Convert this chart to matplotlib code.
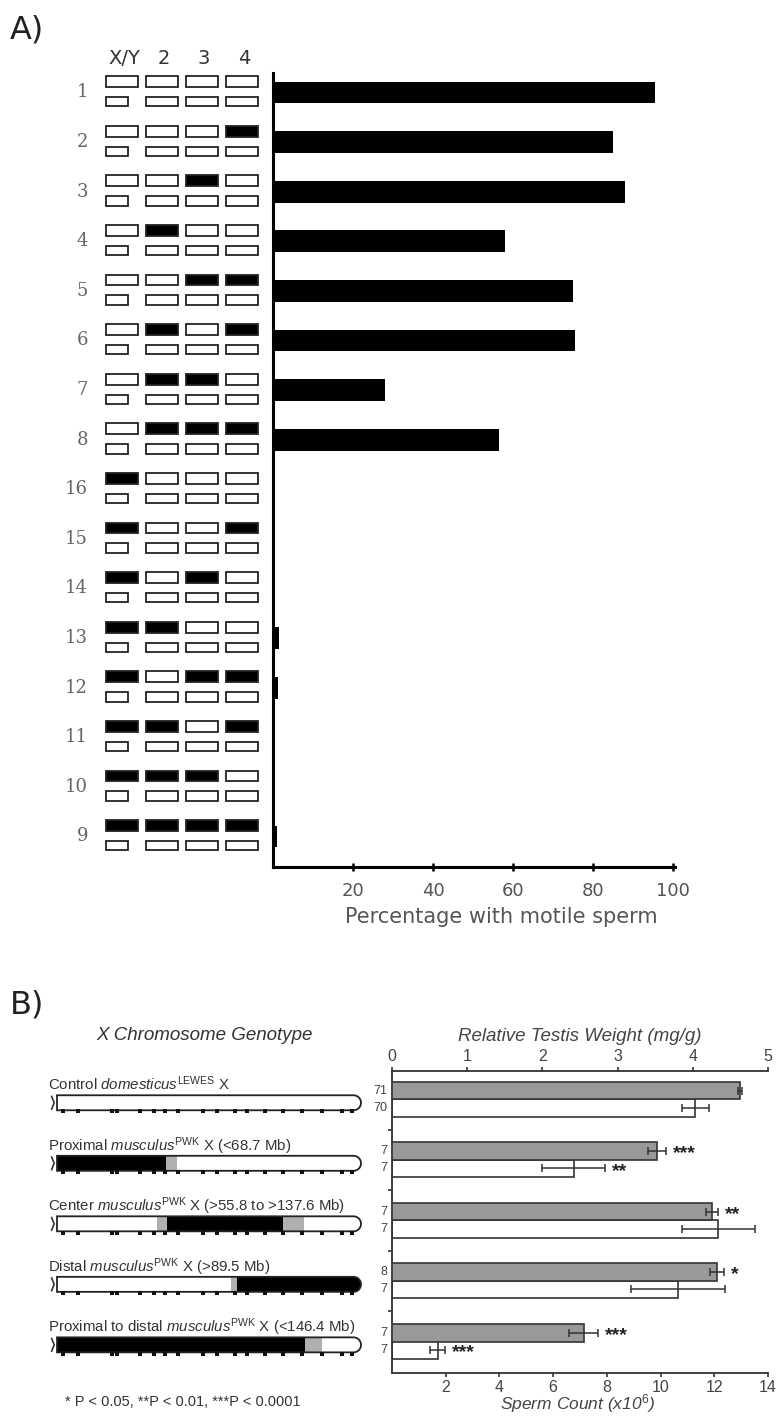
import matplotlib
matplotlib.use("Agg")
import matplotlib.pyplot as plt
import numpy as np
from matplotlib.patches import Rectangle, PathPatch
from matplotlib.path import Path

plt.rcParams['font.family'] = ['Liberation Sans', 'DejaVu Sans']
plt.rcParams['mathtext.fontset'] = 'custom'
plt.rcParams['mathtext.rm'] = 'Liberation Sans'
plt.rcParams['mathtext.it'] = 'Liberation Sans:italic'

# ---------------- panel A data ----------------
rows = ['1', '2', '3', '4', '5', '6', '7', '8', '16', '15', '14', '13', '12', '11', '10', '9']
motile_pct = [95.5, 85, 88, 58, 75, 75.5, 28, 56.5, 0, 0, 0, 1.5, 1.2, 0, 0, 1]
# 1 = PWK (filled) chromosome, 0 = domesticus (open)
xy_pwk = [0, 0, 0, 0, 0, 0, 0, 0, 1, 1, 1, 1, 1, 1, 1, 1]
chr2_pwk = [0, 0, 0, 1, 0, 1, 1, 1, 0, 0, 0, 1, 0, 1, 1, 1]
chr3_pwk = [0, 0, 1, 0, 1, 0, 1, 1, 0, 0, 1, 0, 1, 0, 1, 1]
chr4_pwk = [0, 1, 0, 0, 1, 1, 0, 1, 0, 1, 0, 0, 1, 1, 0, 1]
col_names = ['X/Y', '2', '3', '4']
pct_ticks = [20, 40, 60, 80, 100]

# ---------------- panel B data ----------------
geno_labels = [
    "Control $\\mathit{domesticus}^{\\mathrm{LEWES}}$ X",
    "Proximal $\\mathit{musculus}^{\\mathrm{PWK}}$ X (<68.7 Mb)",
    "Center $\\mathit{musculus}^{\\mathrm{PWK}}$ X (>55.8 to >137.6 Mb)",
    "Distal $\\mathit{musculus}^{\\mathrm{PWK}}$ X (>89.5 Mb)",
    "Proximal to distal $\\mathit{musculus}^{\\mathrm{PWK}}$ X (<146.4 Mb)",
]
chrom_len = 171
black_zones = [[], [(0, 61.3)], [(61.9, 127.1)], [(101.3, 171)], [(0, 139.5)]]
gray_zones = [[], [(61.3, 67.5)], [(56.3, 61.9), (127.1, 138.9)], [(97.9, 101.3)], [(139.5, 149)]]
marker_mb = [3.4, 11.8, 30.9, 33.8, 46.7, 54.6, 60.8, 68.1, 82.1, 90, 100.1,
             106.9, 117, 127.1, 137.8, 149, 160.3, 165.9]

testis_wt = [4.63, 3.53, 4.25, 4.32, 2.55]
testis_err = [0.03, 0.12, 0.08, 0.09, 0.19]
sperm_count = [11.3, 6.76, 12.15, 10.64, 1.7]
sperm_err = [0.5, 1.18, 1.37, 1.75, 0.28]
testis_sig = ['', '***', '**', '*', '***']
sperm_sig = ['', '**', '', '', '***']
n_testis = ['71', '7', '7', '8', '7']
n_sperm = ['70', '7', '7', '7', '7']

W, H = 782, 1416
fig = plt.figure(figsize=(W / 100, H / 100), dpi=100)


def px_ax(x0, y0, x1, y1):
    return fig.add_axes([x0 / W, 1 - y1 / H, (x1 - x0) / W, (y1 - y0) / H])


def fig_text(x, y, s, **kw):
    return fig.text(x / W, 1 - y / H, s, **kw)


# ================= Panel A =================
fig_text(10, 30, 'A)', fontsize=23, va='center', ha='left', color='#222',
         family='DejaVu Sans')

ypos = np.arange(len(rows))
ylim_a = (15.615, -0.393)

ax_a = px_ax(273, 73, 675, 867)
ax_a.barh(ypos, motile_pct, height=0.44, color='black')
ax_a.set_xlim(0, 100.5)
ax_a.set_ylim(*ylim_a)
for s in ['top', 'right']:
    ax_a.spines[s].set_visible(False)
for s in ['left', 'bottom']:
    ax_a.spines[s].set_linewidth(2.2)
ax_a.set_yticks([])
ax_a.set_xticks(pct_ticks)
ax_a.tick_params(axis='x', direction='inout', length=6, width=1.8,
                 labelsize=13, labelcolor='#555', pad=8)
for lab in ax_a.get_xticklabels():
    lab.set_family('DejaVu Sans')
fig_text(501, 917, 'Percentage with motile sperm', ha='center', va='center',
         fontsize=15, color='#555', family='DejaVu Sans')

# karyotype icons
ax_k = px_ax(60, 73, 265, 867)
ax_k.set_xlim(60, 265)
ax_k.set_ylim(*ylim_a)
ax_k.axis('off')
col_x = [(106, 138), (146, 178), (186, 218), (226, 258)]
pattern = [xy_pwk, chr2_pwk, chr3_pwk, chr4_pwk]
for i, y in enumerate(ypos):
    ax_k.text(88, y, rows[i], ha='right', va='center', fontsize=13,
              color='#666', family='DejaVu Serif')
    for c, (x0, x1) in enumerate(col_x):
        filled = pattern[c][i] == 1
        ax_k.add_patch(Rectangle((x0, y - 0.33), x1 - x0, 0.22,
                                 facecolor='black' if filled else 'white',
                                 edgecolor='#222', lw=1.3))
        bx1 = 128 if c == 0 else x1
        ax_k.add_patch(Rectangle((x0, y + 0.09), bx1 - x0, 0.19,
                                 facecolor='white', edgecolor='#222', lw=1.3))

for (x0, x1), name in zip(col_x, col_names):
    fig_text((x0 + x1) / 2 + 2, 58, name, ha='center', va='center',
             fontsize=14, color='#333', family='DejaVu Sans')

# ================= Panel B =================
fig_text(10, 1005, 'B)', fontsize=23, va='center', ha='left', color='#222',
         family='DejaVu Sans')

gpos = np.arange(len(geno_labels))
ylim_b = (4.52, -0.47)
bar_h = 0.29

ax_b = px_ax(392, 1071, 768, 1373)
ax_b.barh(gpos + 0.14, sperm_count, height=bar_h, xerr=sperm_err,
          color='white', edgecolor='#333', lw=1.2,
          error_kw=dict(ecolor='#333', elinewidth=1.1, capsize=3, capthick=1.1))
ax_b.set_xlim(0, 14)
ax_b.set_ylim(*ylim_b)
ax_b.set_xticks([2, 4, 6, 8, 10, 12, 14])
ax_b.set_yticks([0.5, 1.5, 2.5, 3.5])
ax_b.set_yticklabels([])
ax_b.tick_params(axis='y', direction='out', length=3, width=1.2, color='#333')
ax_b.tick_params(axis='x', direction='out', length=3, width=1.2, color='#333',
                 labelsize=11.5, labelcolor='#444', pad=2)
ax_b.spines['right'].set_visible(False)
ax_b.spines['top'].set_visible(False)
for s in ['left', 'bottom']:
    ax_b.spines[s].set_linewidth(1.3)
    ax_b.spines[s].set_color('#333')
fig_text(578, 1404, 'Sperm Count (x10$^{6}$)', ha='center', va='center',
         fontsize=12.5, style='italic', color='#444')

ax_t = ax_b.twiny()
ax_t.barh(gpos - 0.145, testis_wt, height=bar_h, xerr=testis_err,
          color='#999999', edgecolor='#333', lw=1.2,
          error_kw=dict(ecolor='#333', elinewidth=1.1, capsize=3, capthick=1.1))
ax_t.set_xlim(0, 5)
ax_t.set_ylim(*ylim_b)
ax_t.set_xticks([0, 1, 2, 3, 4, 5])
ax_t.tick_params(axis='x', direction='out', length=3, width=1.2, color='#333',
                 labelsize=11.5, labelcolor='#444', pad=2)
for s in ['left', 'right', 'bottom']:
    ax_t.spines[s].set_visible(False)
ax_t.spines['top'].set_linewidth(1.3)
ax_t.spines['top'].set_color('#333')
ax_t.set_xlabel('Relative Testis Weight (mg/g)', fontsize=13.5, style='italic',
                color='#444', labelpad=6)

for g in gpos:
    if testis_sig[g]:
        ax_t.annotate(testis_sig[g], (testis_wt[g] + testis_err[g], g - 0.145),
                      xytext=(5, -2), textcoords='offset points', ha='left',
                      va='center', fontsize=14, fontweight='bold', color='#222')
    if sperm_sig[g]:
        ax_b.annotate(sperm_sig[g], (sperm_count[g] + sperm_err[g], g + 0.14),
                      xytext=(5, -2), textcoords='offset points', ha='left',
                      va='center', fontsize=14, fontweight='bold', color='#222')
    ax_b.annotate(n_testis[g], (0, g - 0.145), xytext=(-3, 0),
                  textcoords='offset points', ha='right', va='center',
                  fontsize=9, color='#444')
    ax_b.annotate(n_sperm[g], (0, g + 0.14), xytext=(-3, 0),
                  textcoords='offset points', ha='right', va='center',
                  fontsize=9, color='#444')

# chromosome drawings
mb_per_px = chrom_len / 304.0
ax_c = px_ax(40, 1071, 380, 1373)
ax_c.set_xlim((40 - 57) * mb_per_px, (380 - 57) * mb_per_px)
ax_c.set_ylim(*ylim_b)
ax_c.axis('off')
half = 0.124
cap = 7.5 * mb_per_px
theta = np.linspace(np.pi / 2, -np.pi / 2, 30)
for g in gpos:
    yc = g + 0.055
    top, bot = yc - half, yc + half
    xs = [0, chrom_len - cap] + list(chrom_len - cap + cap * np.cos(theta)) + [chrom_len - cap, 0]
    ys = [top, top] + list(yc - half * np.sin(theta)) + [bot, bot]
    verts = list(zip(xs, ys)) + [(0, top)]
    body = PathPatch(Path(verts, closed=True), facecolor='white', edgecolor='none')
    ax_c.add_patch(body)
    for a, b in black_zones[g]:
        r = Rectangle((a, top), b - a, 2 * half, facecolor='black', edgecolor='none')
        ax_c.add_patch(r)
        r.set_clip_path(body)
    for a, b in gray_zones[g]:
        r = Rectangle((a, top), b - a, 2 * half, facecolor='#b0b0b0', edgecolor='none')
        ax_c.add_patch(r)
        r.set_clip_path(body)
    ax_c.add_patch(PathPatch(Path(verts, closed=True), facecolor='none',
                             edgecolor='#222', lw=1.3))
    # centromere
    ax_c.plot([-3.0, -1.6, -3.0], [top + 0.02, yc, bot - 0.02], color='#333', lw=1.2)
    # markers
    ax_c.plot(marker_mb, [bot + 0.02] * len(marker_mb), 's', color='#111',
              markersize=2.2, markeredgewidth=0)
    ax_c.text(-5.06, g - 0.15, geno_labels[g], ha='left', va='baseline',
              fontsize=10.8, color='#333')

fig_text(205, 1036, 'X Chromosome Genotype', ha='center', va='center',
         fontsize=13.5, style='italic', color='#333')
fig_text(65, 1402, '* P < 0.05, **P < 0.01, ***P < 0.0001', ha='left',
         va='center', fontsize=10.5, color='#333')

fig.savefig('out.png', dpi=100)
